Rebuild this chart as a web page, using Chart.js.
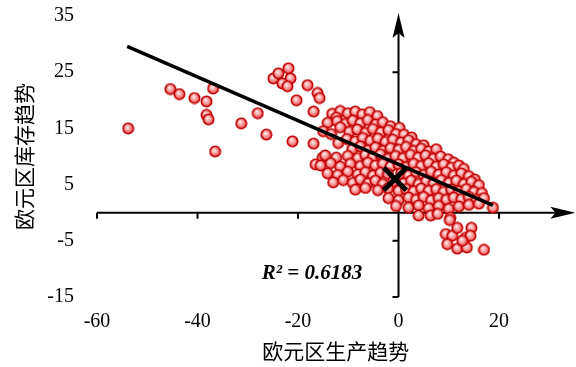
<!DOCTYPE html>
<html>
<head>
<meta charset="utf-8">
<script src="https://cdn.jsdelivr.net/npm/chart.js@4.4.1/dist/chart.umd.min.js"></script>
<style>
  html, body { margin: 0; padding: 0; background: #fff; }
</style>
</head>
<body>
<canvas id="chart" width="576" height="367"></canvas>
<script>
// production trend (x) and inventory trend (y)
const prodTrend = [
  -53.8, -45.4, -43.6, -40.6, -36.9, -38.2, -38.2, -37.8, -36.5, -31.3, -28.0, -26.3, -24.9, -23.9,
  -21.9, -21.5, -23.1, -22.1, -20.3, -18.1, -16.1, -15.7, -21.1, -16.9, -16.9, -16.5, -15.1,
  -13.2, -11.6, -10.1, -8.6, -7.2, -5.7, -4.2, -12.4,
  -14.1, -12.2, -10.6, -9.1, -7.6, -6.1, -4.6, -3.1, -1.6, 0.2,
  -15.0, -13.4, -11.6, -9.8, -8.2, -6.6, -5.1, -3.5, -2.0, -0.5, 1.1, 2.6,
  -12.0, -10.3, -8.6, -7.1, -5.6, -4.1, -2.6, -1.1, 0.5, 2.0, 3.5, 5.0,
  -9.2, -7.6, -6.1, -4.6, -3.1, -1.6, 0.0, 1.5, 3.0, 4.5, 6.0, 7.5,
  -14.6, -12.4, -10.1, -8.1, -6.6, -5.1, -3.6, -2.1, -0.6, 0.9, 2.4, 3.9, 5.4, 6.9, 8.4, 9.9, 11.0,
  -15.5, -13.5, -11.6, -9.6, -7.6, -6.1, -4.6, -3.1, -1.6, 0.0, 1.5, 3.0, 4.5, 6.0, 7.5, 9.0, 10.5, 12.0, 13.0,
  -14.1, -12.1, -10.1, -8.1, -6.6, -5.1, -3.6, -2.1, 0.5, 2.0, 3.5, 5.0, 6.5, 8.0, 9.5, 11.0, 12.5, 14.0, 15.2,
  -13.0, -11.0, -9.1, -7.6, -6.1, -4.6, -3.1, -1.0, 1.0, 2.5, 4.0, 5.5, 7.0, 8.5, 10.0, 11.5, 13.0, 14.5, 16.0,
  -8.6, -6.6, -4.1, -2.1, 0.0, 1.5, 3.0, 4.5, 6.0, 7.5, 9.0, 10.5, 12.0, 13.5, 15.0, 16.6,
  -2.0, 0.0, 2.0, 3.5, 5.0, 6.5, 8.0, 9.5, 11.0, 12.5, 14.0, 15.5, 17.0,
  -0.5, 2.0, 4.0, 6.0, 8.0, 10.0, 12.0, 14.0, 16.0, 18.8,
  4.0, 6.4, 7.8, 10.3,
  10.2, 9.4, 10.7, 11.7, 14.5, 13.3, 14.3, 9.7, 11.7, 13.6, 17.0, 12.7
];
const invTrend = [
  15.0, 22.0, 21.1, 20.4, 22.1, 19.8, 17.4, 16.6, 10.9, 15.9, 17.7, 13.9, 23.9, 24.8,
  25.7, 23.9, 23.0, 22.5, 20.0, 22.7, 21.3, 20.4, 12.7, 12.3, 18.0, 8.6, 9.8,
  17.6, 18.1, 17.7, 18.0, 17.5, 17.9, 17.2, 16.9,
  16.0, 16.3, 15.8, 16.4, 15.9, 16.5, 15.7, 16.1, 15.4, 15.1,
  14.5, 14.0, 15.2, 14.4, 14.8, 14.2, 14.9, 14.3, 14.7, 14.0, 13.9, 13.4,
  12.4, 13.1, 12.7, 13.3, 12.8, 13.2, 12.6, 13.0, 12.5, 12.9, 12.2, 12.0,
  11.3, 11.8, 11.1, 11.6, 11.0, 11.5, 11.2, 11.7, 11.0, 11.4, 10.9, 11.3,
  10.2, 9.8, 10.1, 9.7, 10.3, 9.9, 10.4, 9.6, 10.1, 9.7, 10.3, 9.8, 10.2, 9.6, 10.0, 9.5, 8.9,
  8.4, 8.8, 8.2, 8.7, 8.3, 8.9, 8.4, 8.7, 8.2, 8.6, 8.1, 8.7, 8.3, 8.8, 8.2, 8.6, 8.0, 8.4, 7.8,
  7.0, 6.7, 7.3, 6.8, 7.2, 6.6, 7.1, 6.9, 7.0, 6.6, 7.2, 6.7, 7.3, 6.8, 7.2, 6.6, 7.0, 6.5, 5.9,
  5.4, 5.8, 5.3, 5.9, 5.2, 5.7, 5.1, 5.6, 5.2, 5.7, 5.1, 5.6, 5.2, 5.8, 5.3, 5.7, 5.1, 5.5, 4.9,
  4.1, 4.4, 4.0, 4.3, 3.9, 4.2, 3.8, 4.3, 3.9, 4.2, 3.7, 4.1, 3.8, 4.2, 3.7, 3.5,
  2.6, 2.2, 2.7, 2.3, 2.8, 2.2, 2.6, 2.3, 2.7, 2.4, 2.8, 2.3, 2.6,
  1.2, 0.9, 1.3, 0.8, 1.2, 0.7, 1.1, 1.4, 1.6, 0.9,
  -0.5, -0.5, -0.2, -0.9,
  -1.3, -3.8, -4.1, -2.7, -2.7, -4.5, -4.1, -5.6, -6.4, -6.2, -6.6, -5.0
];

// regression line end points and the big cross
const fitX = [-54, 18.8];
const fitY = [29.6, 1.3];
const crossX = [-0.7];
const crossY = [6.0];

const xTicks = [-60, -40, -20, 0, 20];
const yTicks = [-15, -5, 5, 15, 25, 35];
const xTitle = '欧元区生产趋势';
const yTitle = '欧元区库存趋势';
const r2Text = 'R² = 0.6183';
const r2At = { x: -17.2, y: -10.8 };

const serif = '"Liberation Serif", "Times New Roman", serif';
const cjk = '"Noto Sans CJK SC", sans-serif';

function makeDot() {
    const c = document.createElement('canvas');
    c.width = 13;
    c.height = 13;
    const g = c.getContext('2d');
    const grad = g.createRadialGradient(5.5, 5, 0.5, 6.5, 6.5, 6);
    grad.addColorStop(0, '#ffe6e6');
    grad.addColorStop(1, '#f03a3a');
    g.beginPath();
    g.arc(6.5, 6.5, 5.2, 0, Math.PI * 2);
    g.fillStyle = grad;
    g.fill();
    g.lineWidth = 1.6;
    g.strokeStyle = '#c00000';
    g.stroke();
    return c;
}

function arrowHead(ctx, tx, ty, dir) {
    // dir: 'right' or 'up'
    const len = 25, half = 6, notch = 20;
    ctx.beginPath();
    if (dir === 'right') {
        ctx.moveTo(tx, ty);
        ctx.lineTo(tx - len, ty - half);
        ctx.lineTo(tx - notch, ty);
        ctx.lineTo(tx - len, ty + half);
    } else {
        ctx.moveTo(tx, ty);
        ctx.lineTo(tx - half, ty + len);
        ctx.lineTo(tx, ty + notch);
        ctx.lineTo(tx + half, ty + len);
    }
    ctx.closePath();
    ctx.fill();
}

const crossAxes = {
    id: 'crossAxes',
    beforeDatasetsDraw(chart) {
        const { ctx, chartArea } = chart;
        const x = chart.scales.x, y = chart.scales.y;
        const x0 = x.getPixelForValue(0);
        const y0 = y.getPixelForValue(0);
        const xTip = chartArea.right + 1;
        const yTip = chartArea.top - 3;
        ctx.save();
        ctx.strokeStyle = '#000';
        ctx.fillStyle = '#000';
        ctx.lineWidth = 2;
        ctx.beginPath();
        ctx.moveTo(x.getPixelForValue(xTicks[0]), y0);
        ctx.lineTo(xTip - 20, y0);
        ctx.moveTo(x0, y.getPixelForValue(yTicks[0]));
        ctx.lineTo(x0, yTip + 20);
        xTicks.forEach(v => {
            const px = x.getPixelForValue(v);
            ctx.moveTo(px, y0);
            ctx.lineTo(px, y0 + 6);
        });
        yTicks.slice(0, -1).forEach(v => {
            const py = y.getPixelForValue(v);
            ctx.moveTo(x0, py);
            ctx.lineTo(x0 - 6, py);
        });
        ctx.stroke();
        arrowHead(ctx, xTip, y0, 'right');
        arrowHead(ctx, x0, yTip, 'up');
        ctx.restore();
    },
    afterDatasetsDraw(chart) {
        const { ctx } = chart;
        ctx.save();
        ctx.fillStyle = '#000';
        ctx.font = 'italic bold 21px ' + serif;
        ctx.textAlign = 'center';
        ctx.textBaseline = 'middle';
        ctx.fillText(r2Text, chart.scales.x.getPixelForValue(r2At.x), chart.scales.y.getPixelForValue(r2At.y));
        ctx.restore();
    }
};

const dot = makeDot();

new Chart(document.getElementById('chart'), {
    type: 'scatter',
    data: {
        datasets: [
            {
                label: 'cross',
                data: crossX.map((v, i) => ({ x: v, y: crossY[i] })),
                pointStyle: 'crossRot',
                pointRadius: 16,
                borderColor: '#000',
                borderWidth: 5,
            },
            {
                label: 'fit',
                type: 'line',
                data: fitX.map((v, i) => ({ x: v, y: fitY[i] })),
                borderColor: '#000',
                borderWidth: 3.5,
                pointRadius: 0,
                fill: false,
            },
            {
                label: 'obs',
                data: prodTrend.map((v, i) => ({ x: v, y: invTrend[i] })),
                pointStyle: dot,
                pointRadius: 6,
            }
        ]
    },
    options: {
        responsive: false,
        animation: false,
        devicePixelRatio: 1,
        layout: { autoPadding: false, padding: { top: 16, right: 1.6, bottom: 0, left: 0 } },
        plugins: {
            legend: { display: false },
            tooltip: { enabled: false }
        },
        scales: {
            x: {
                type: 'linear',
                min: -60,
                max: 35,
                afterBuildTicks: s => { s.ticks = xTicks.map(v => ({ value: v })); },
                afterFit: s => { s.height = 70; s.paddingLeft = 0; s.paddingRight = 0; },
                grid: { display: false, drawTicks: false },
                border: { display: false },
                ticks: { font: { family: serif, size: 20 }, color: '#000', padding: 13, maxRotation: 0, autoSkip: false },
                title: { display: true, text: xTitle, color: '#000', font: { family: cjk, size: 21 }, padding: { top: 0, bottom: 3 } }
            },
            y: {
                type: 'linear',
                min: -15,
                max: 35,
                afterBuildTicks: s => { s.ticks = yTicks.map(v => ({ value: v })); },
                afterFit: s => { s.width = 97; s.paddingTop = 0; s.paddingBottom = 0; },
                grid: { display: false, drawTicks: false },
                border: { display: false },
                ticks: { font: { family: serif, size: 20 }, color: '#000', padding: 23, autoSkip: false },
                title: { display: true, text: yTitle, color: '#000', font: { family: cjk, size: 21 }, padding: { top: 11, bottom: 0 } }
            }
        }
    },
    plugins: [crossAxes]
});
</script>
</body>
</html>
